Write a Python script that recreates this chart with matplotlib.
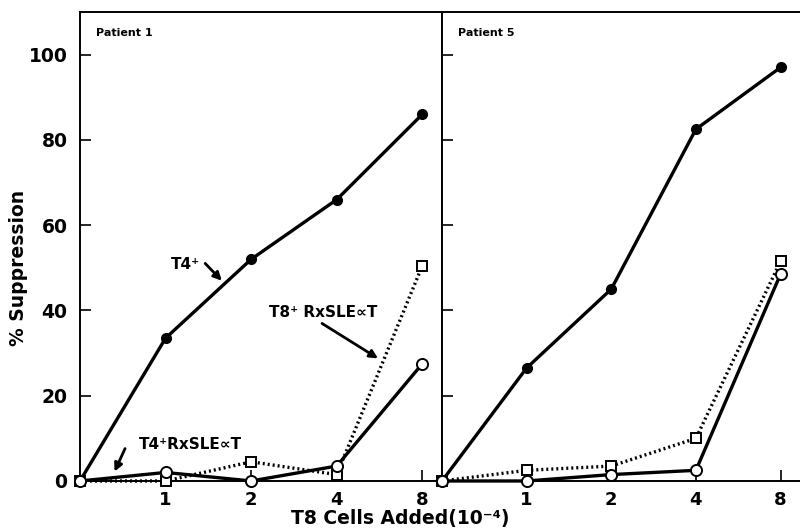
import numpy as np
import matplotlib
matplotlib.use("Agg")
import matplotlib.pyplot as plt

# x categories: cells added (x10^-4), 0 is the origin
cells = ["0", "1", "2", "4", "8"]

p1_t4 = [0, 33.5, 52, 66, 86]
p1_t4_rx = [0, 2, 0, 3.5, 27.5]
p1_t8_rx = [0, 0, 4.5, 1.5, 50.5]

p5_t4 = [0, 26.5, 45, 82.5, 97]
p5_t4_rx = [0, 0, 1.5, 2.5, 48.5]
p5_t8_rx = [0, 2.5, 3.5, 10, 51.5]

yticks = [0, 20, 40, 60, 80, 100]

plt.rcParams['font.family'] = ['DejaVu Sans']
plt.rcParams['font.weight'] = 'bold'

fig = plt.figure(figsize=(8, 5.32), dpi=100)
ax1 = fig.add_axes([0.1, 0.0959, 0.4525, 0.8816])
ax2 = fig.add_axes([0.5525, 0.0959, 0.4475, 0.8816])

xpos = np.arange(len(cells))


def draw_panel(ax, t4, t4rx, t8rx, title, ylabels):
    ax.plot(xpos, t4, color='black', lw=2.4, marker='o', ms=7,
            mfc='black', mec='black', clip_on=False, zorder=3)
    ax.plot(xpos, t8rx, color='black', lw=2.4, ls=(0, (0.6, 0.9)),
            marker='s', ms=6.5, mfc='white', mec='black', mew=1.4,
            clip_on=False, zorder=3)
    ax.plot(xpos, t4rx, color='black', lw=2.4, marker='o', ms=8,
            mfc='white', mec='black', mew=1.4, clip_on=False, zorder=4)
    ax.set_xlim(0, 4.23)
    ax.set_ylim(0, 110)
    ax.set_xticks(xpos[1:])
    ax.set_xticklabels(cells[1:], fontsize=13, fontweight='bold')
    ax.set_yticks(yticks)
    if ylabels:
        ax.set_yticklabels([str(v) for v in yticks], fontsize=13.5,
                           fontweight='bold')
    else:
        ax.set_yticklabels([])
    ax.tick_params(axis='y', direction='in', length=8, width=1.2, pad=9)
    ax.tick_params(axis='x', direction='in', length=8, width=1.2, pad=7)
    for sp in ax.spines.values():
        sp.set_linewidth(1.4)
    ax.text(0.045, 0.955, title, transform=ax.transAxes, fontsize=8,
            fontweight='bold', va='center', ha='left')


draw_panel(ax1, p1_t4, p1_t4_rx, p1_t8_rx, "Patient 1", True)
draw_panel(ax2, p5_t4, p5_t4_rx, p5_t8_rx, "Patient 5", False)
ax2.spines['right'].set_visible(False)

arrow = dict(arrowstyle='-|>', color='black', lw=2, mutation_scale=12)
ax1.text(1.23, 50.7, "T4⁺", fontsize=11, fontweight='bold',
         ha='center', va='center')
ax1.annotate("", xy=(1.68, 46.5), xytext=(1.44, 51.5), arrowprops=arrow)
ax1.text(2.84, 39.6, "T8⁺ RxSLE∝T", fontsize=11, fontweight='bold',
         ha='center', va='center')
ax1.annotate("", xy=(3.51, 28.4), xytext=(2.8, 37.3), arrowprops=arrow)
ax1.text(1.29, 8.6, "T4⁺RxSLE∝T", fontsize=11, fontweight='bold',
         ha='center', va='center')
ax1.annotate("", xy=(0.39, 1.6), xytext=(0.54, 8.2), arrowprops=arrow)

fig.text(0.023, 0.496, "% Suppression", fontsize=13.5, fontweight='bold',
         rotation=90, ha='center', va='center')
fig.text(0.5, 0.008, "T8 Cells Added(10⁻⁴)", fontsize=13.5,
         fontweight='bold', ha='center', va='bottom')

fig.savefig("out.png", dpi=100)
